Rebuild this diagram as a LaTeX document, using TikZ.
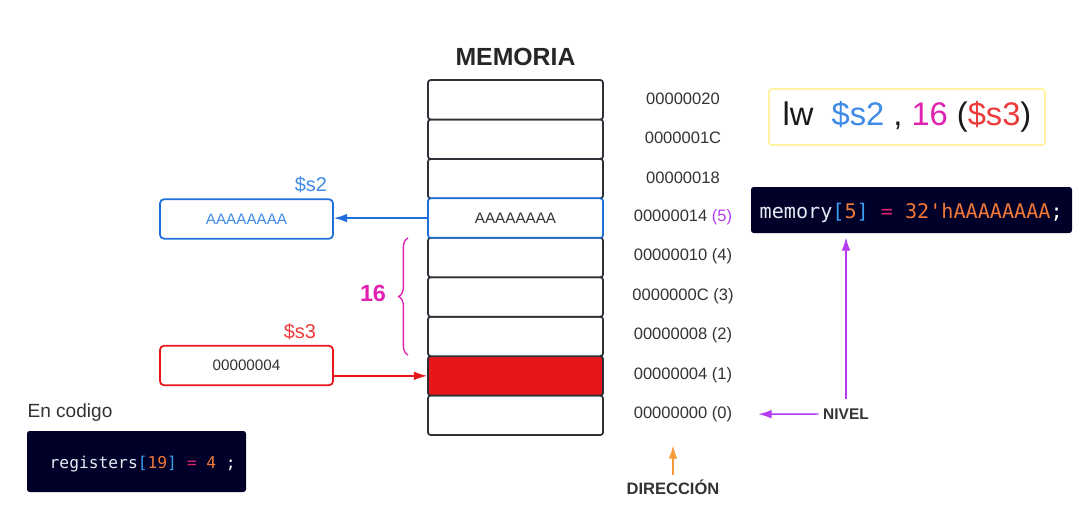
\documentclass[tikz,border=0pt]{standalone}
\usepackage{fontspec}
\setmainfont{Liberation Sans}
\setmonofont{DejaVu Sans Mono}
\usetikzlibrary{arrows.meta,decorations.pathreplacing}

\definecolor{celldark}{HTML}{2B2F36}
\definecolor{txtgray}{HTML}{333333}
\definecolor{regblue}{HTML}{1E6FDC}
\definecolor{lblblue}{HTML}{3F8AE6}
\definecolor{regred}{HTML}{E8161A}
\definecolor{lblred}{HTML}{EE3B3B}
\definecolor{bracemag}{HTML}{E020B0}
\definecolor{nivelpurple}{HTML}{B43CF0}
\definecolor{dirorange}{HTML}{F89A3A}
\definecolor{lwyellow}{HTML}{FFF3A0}
\definecolor{codebg}{HTML}{000028}
\definecolor{codeid}{HTML}{E6ECF6}
\definecolor{codebrk}{HTML}{3A9EF0}
\definecolor{codenum}{HTML}{F07838}
\definecolor{codeeq}{HTML}{E0206A}

\begin{document}
\begin{tikzpicture}[x=0.75pt,y=-0.75pt,
  cell/.style={draw=celldark, line width=1.3pt, rounded corners=2pt, fill=white,
    minimum width=131.25pt, minimum height=29.6pt, inner sep=0pt,
    font=\fontsize{11.4}{13}\selectfont, text=txtgray},
  plain/.style={},
  hot/.style={fill=regred},
  picked/.style={draw=regblue},
  addr/.style={font=\fontsize{12.4}{14}\selectfont, text=txtgray},
  regbox/.style={line width=1.3pt, rounded corners=3pt, fill=white,
    minimum width=129.75pt, minimum height=29.6pt, inner sep=0pt,
    font=\fontsize{11.4}{13}\selectfont},
  reglbl/.style={font=\fontsize{15}{17}\selectfont},
  codebox/.style={fill=codebg, rounded corners=2pt, inner sep=0pt},
  codetext/.style={anchor=west, inner sep=0pt},
  tag/.style={font=\bfseries\fontsize{11.6}{14}\selectfont, text=txtgray},
  pointer/.style={line width=1.1pt, -{Latex[length=10pt,width=6.5pt]}}
]

\useasboundingbox (0,0) rectangle (1090,526);

% memory column
\node[font=\bfseries\fontsize{18.6}{21}\selectfont, text=black!85] (memtitle) at (515.5,57) {MEMORIA};

\foreach \i/\look/\txt in {0/plain/{},1/hot/{},2/plain/{},3/plain/{},4/plain/{},6/plain/{},7/plain/{},8/plain/{},5/picked/AAAAAAAA}
  \node[cell, \look] (cell\i) at (515.5,{435-39.44*(\i+0.5)}) {\txt};

\foreach \i/\addr in {0/{00000000 (0)},1/{00000004 (1)},2/{00000008 (2)},3/{0000000C (3)},4/{00000010 (4)},5/{00000014 \textcolor{nivelpurple}{(5)}},6/00000018,7/0000001C,8/00000020}
  \node[addr] (addr\i) at (683,{434-39.44*(\i+0.5)}) {\addr};

% registers
\node[regbox, draw=regblue, text=lblblue] (s2box) at (246.5,219) {AAAAAAAA};
\node[reglbl, text=lblblue] (s2lbl) at (311,185) {\$s2};
\node[regbox, draw=regred, text=txtgray] (s3box) at (246.5,365.5) {00000004};
\node[reglbl, text=lblred] (s3lbl) at (300,332) {\$s3};

\draw[pointer, regblue] (cell5.west) -- (cell5.west -| s2box.east);
\draw[pointer, regred] (s3box.east |- cell1.west) -- (cell1.west);

% offset brace
\coordinate (bracelo) at (408,355);
\coordinate (bracehi) at (408,238);
\draw[bracemag, line width=1pt, decorate, decoration={brace, amplitude=7pt}] (bracelo) -- (bracehi);
\node[font=\bfseries\fontsize{17.5}{20}\selectfont, text=bracemag] (offset) at (373,293) {16};

% instruction and code
\node[draw=lwyellow, line width=1.2pt, rounded corners=2pt, fill=white,
  minimum width=207pt, minimum height=42pt, font=\fontsize{24.5}{28}\selectfont] (instr) at (907,117)
  {\textcolor{black!90}{lw}\ \ \textcolor{lblblue}{\$s2} \textcolor{black!90}{,} \textcolor{bracemag}{16} \textcolor{black!90}{(}\textcolor{lblred}{\$s3}\textcolor{black!90}{)}};

\node[codebox, minimum width=240.75pt, minimum height=34.5pt] (memcode) at (911.5,210) {};
\node[codetext, font=\ttfamily\fontsize{15.1}{17}\selectfont] (memtext) at ([xshift=6.5pt,yshift=-2pt]memcode.west)
  {\textcolor{codeid}{memory}\textcolor{codebrk}{[}\textcolor{codenum}{5}\textcolor{codebrk}{]}\ \textcolor{codeeq}{=}\ \textcolor{codenum}{32\char39hAAAAAAAA}\textcolor{white}{;}};

\node[font=\fontsize{14.3}{17}\selectfont, text=black!80] (codetitle) at (70,413) {En codigo};

\node[codebox, minimum width=164.25pt, minimum height=45.75pt] (regcode) at (136.5,461.5) {};
\node[codetext, font=\ttfamily\fontsize{12.2}{15}\selectfont] (regtext) at ([xshift=17pt,yshift=-2pt]regcode.west)
  {\textcolor{codeid}{registers}\textcolor{codebrk}{[}\textcolor{codenum}{19}\textcolor{codebrk}{]}\ \textcolor{codeeq}{=}\ \textcolor{codenum}{4}\ \textcolor{white}{;}};

% pointers
\node[tag] (nivel) at (846,414) {NIVEL};
\node[tag, font=\bfseries\fontsize{12.4}{14}\selectfont] (direccion) at (673,487) {DIRECCIÓN};

\draw[pointer, nivelpurple, shorten >=16pt] (nivel.west) -- (addr0.east);
\draw[pointer, nivelpurple, shorten <=4pt, shorten >=3pt] (nivel.north) -- (nivel.north |- memcode.south);
\draw[pointer, dirorange, shorten >=14pt] (direccion.north) -- (direccion.north |- addr0.south);

\end{tikzpicture}
\end{document}
